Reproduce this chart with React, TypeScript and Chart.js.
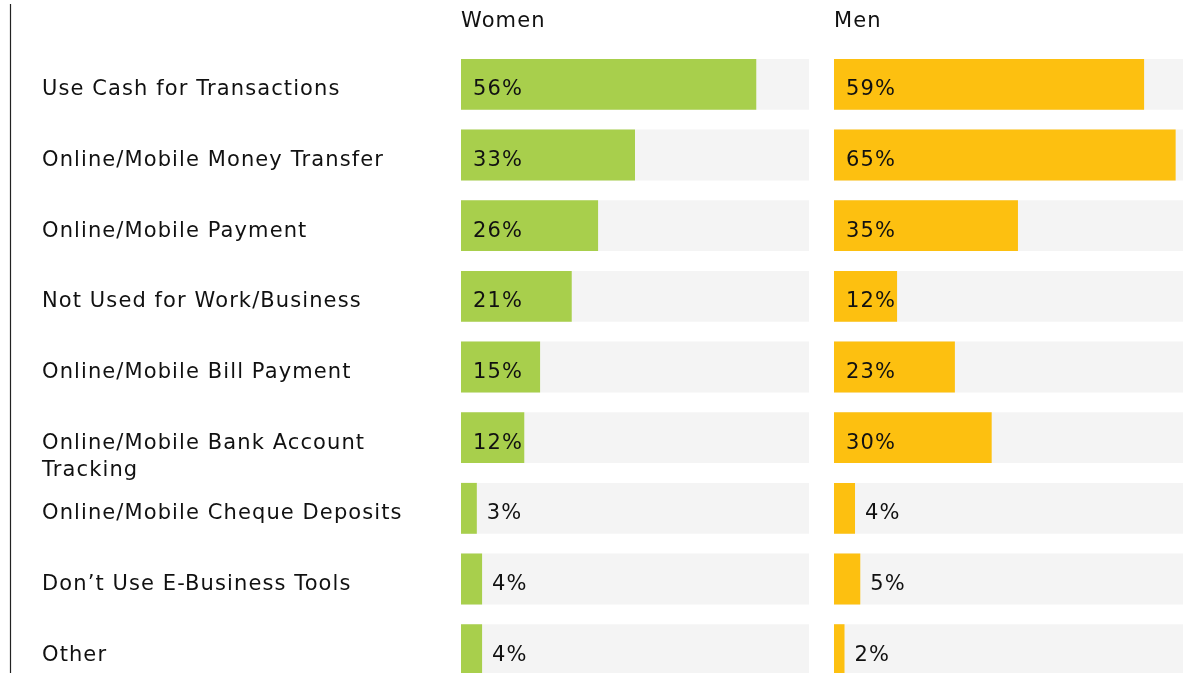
import React, { useEffect, useRef } from "react";
import { Chart, registerables } from "chart.js";

Chart.register(...registerables);

const categories: (string | string[])[] = [
  "Use Cash for Transactions",
  "Online/Mobile Money Transfer",
  "Online/Mobile Payment",
  "Not Used for Work/Business",
  "Online/Mobile Bill Payment",
  ["Online/Mobile Bank Account", "Tracking"],
  "Online/Mobile Cheque Deposits",
  "Don\u2019t Use E-Business Tools",
  "Other",
];
const women = [56, 33, 26, 21, 15, 12, 3, 4, 4];
const men = [59, 65, 35, 12, 23, 30, 4, 5, 2];
const womenMax = 66;
const menMax = 66.4;

const FONT = "'DejaVu Sans', Inter, sans-serif";
const FSIZE = 21;
const SPACING = "1.1px";
const TEXT = "#111111";
const GREEN = "#A8CF4C";
const YELLOW = "#FDC010";
const TRACK = "#F4F4F4";

function makeChart(
  canvas: HTMLCanvasElement,
  values: number[],
  axisMax: number,
  color: string,
  title: string,
  padLeft: number,
  padRight: number,
  withLabels: boolean
) {
  const labelsPlugin = {
    id: "customText",
    afterDatasetsDraw(chart: any) {
      const ctx = chart.ctx as CanvasRenderingContext2D;
      const yScale = chart.scales.y;
      ctx.save();
      ctx.font = `${FSIZE}px ${FONT}`;
      (ctx as any).letterSpacing = SPACING;
      ctx.fillStyle = TEXT;
      ctx.textBaseline = "alphabetic";
      ctx.textAlign = "left";
      ctx.fillText(title, chart.chartArea.left, 27);
      const meta = chart.getDatasetMeta(0);
      meta.data.forEach((el: any, i: number) => {
        const txt = `${values[i]}%`;
        const w = ctx.measureText(txt).width;
        const start = Math.min(el.base, el.x);
        const end = Math.max(el.base, el.x);
        let x: number;
        if (end - start >= 40) x = start + 12;
        else x = Math.max(end + 10, start + 15);
        void w;
        ctx.fillText(txt, x, el.y + 11);
      });
      if (withLabels) {
        categories.forEach((c, i) => {
          const y = yScale.getPixelForValue(i);
          const lines = Array.isArray(c) ? c : [c];
          lines.forEach((ln, j) => {
            ctx.fillText(ln, 42, y + 11 + j * 27);
          });
        });
        ctx.strokeStyle = "#222222";
        ctx.lineWidth = 1.2;
        ctx.beginPath();
        ctx.moveTo(10.5, 4);
        ctx.lineTo(10.5, 673);
        ctx.stroke();
      }
      ctx.restore();
    },
  };

  return new Chart(canvas, {
    type: "bar",
    data: {
      labels: categories.map((c) => (Array.isArray(c) ? c.join(" ") : c)),
      datasets: [
        {
          data: values,
          backgroundColor: color,
          grouped: false,
          order: 1,
          barPercentage: 0.72,
          categoryPercentage: 1,
        } as any,
        {
          data: categories.map(() => axisMax),
          backgroundColor: TRACK,
          grouped: false,
          order: 2,
          barPercentage: 0.72,
          categoryPercentage: 1,
        } as any,
      ],
    },
    options: {
      indexAxis: "y",
      animation: false,
      responsive: false,
      maintainAspectRatio: false,
      layout: { padding: { left: padLeft, right: padRight, top: 49, bottom: 5 } },
      scales: {
        x: { display: false, min: 0, max: axisMax },
        y: { display: false },
      },
      plugins: {
        legend: { display: false },
        tooltip: { enabled: false },
      },
    },
    plugins: [labelsPlugin],
  });
}

export default function App() {
  const leftRef = useRef<HTMLCanvasElement | null>(null);
  const rightRef = useRef<HTMLCanvasElement | null>(null);

  useEffect(() => {
    const c1 = makeChart(leftRef.current!, women, womenMax, GREEN, "Women", 461, 11, true);
    const c2 = makeChart(rightRef.current!, men, menMax, YELLOW, "Men", 14, 2, false);
    return () => {
      c1.destroy();
      c2.destroy();
    };
  }, []);

  return (
    <div
      style={{
        position: "fixed",
        left: 0,
        top: 0,
        width: 1185,
        height: 673,
        overflow: "hidden",
        background: "#ffffff",
      }}
    >
      <canvas
        ref={leftRef}
        width={820}
        height={690}
        style={{ position: "absolute", left: 0, top: 0, width: 820, height: 690 }}
      />
      <canvas
        ref={rightRef}
        width={365}
        height={690}
        style={{ position: "absolute", left: 820, top: 0, width: 365, height: 690 }}
      />
    </div>
  );
}
